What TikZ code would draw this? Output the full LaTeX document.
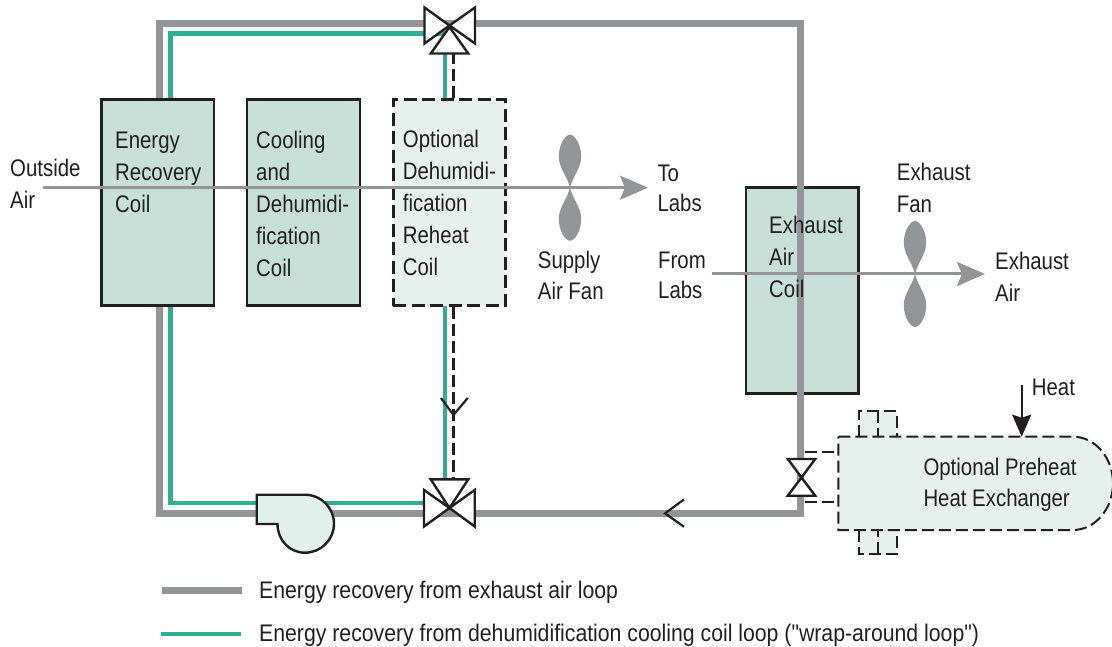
\documentclass[tikz,border=0pt]{standalone}
\usepackage{fontspec}
\setmainfont[FakeStretch=0.85,Ligatures=TeXOff]{Liberation Sans}
\newfontfamily\legfont[FakeStretch=0.885,Ligatures=TeXOff]{Liberation Sans}
\usetikzlibrary{arrows.meta}
\definecolor{ink}{HTML}{231F20}
\definecolor{loopgray}{HTML}{939598}
\definecolor{loopgreen}{HTML}{2FAE93}
\definecolor{coilfill}{HTML}{C6E0D8}
\definecolor{optfill}{HTML}{E6F0EC}
\definecolor{pumpfill}{HTML}{E0F0EA}
\tikzset{
  coil/.style={draw=ink,fill=coilfill,line width=2.7pt,inner sep=0pt},
  optcoil/.style={draw=ink,fill=optfill,line width=2.5pt,inner sep=0pt,dash pattern=on 13pt off 5.5pt},
  grayloop/.style={draw=loopgray,line width=7.5pt,miter limit=10},
  greenloop/.style={draw=loopgreen,line width=4.2pt},
  dashline/.style={draw=ink,line width=2.4pt,dash pattern=on 12pt off 5pt},
  valve/.style={draw=ink,fill=white,line width=2.4pt,line join=miter},
  chevron/.style={draw=ink,line width=2.2pt},
  airline/.style={draw=loopgray,line width=3pt,-{Stealth[length=28pt,width=24pt,inset=5pt]}},
  lbl/.style={anchor=base west,inner sep=0pt,align=left,text=ink,font=\fontsize{24}{32}\selectfont},
  lblt/.style={lbl,font=\fontsize{24}{30}\selectfont},
  leg/.style={anchor=base west,inner sep=0pt,text=ink,font=\legfont\fontsize{24}{32}\selectfont},
  fanblades/.pic={
    \foreach \s in {1,-1}{
      \fill[loopgray,yscale=\s] (0,0) .. controls (-3,-12) and (-11.2,-20) .. (-11.2,-31)
        .. controls (-11.2,-43) and (-5,-53) .. (0,-53)
        .. controls (5,-53) and (11.2,-43) .. (11.2,-31)
        .. controls (11.2,-20) and (3,-12) .. (0,0);
    }
  }
}
\begin{document}
\begin{tikzpicture}[x=1pt,y=-1pt]
\useasboundingbox (0,0) rectangle (1112,647);
\fill[white] (0,0) rectangle (1112,647);
% named points
\coordinate (gTL) at (159.5,23.5);
\coordinate (gTR) at (800.5,23.5);
\coordinate (gBR) at (800.5,513.5);
\coordinate (gBL) at (159.5,513.5);
\coordinate (tTL) at (170.5,33.5);
\coordinate (tTV) at (445.3,33.5);
\coordinate (tBL) at (170.5,503);
\coordinate (tBV) at (445.3,503);
\coordinate (vT) at (449.5,25.5);
\coordinate (vB) at (449.5,508);
\coordinate (vR) at (801.5,477.5);
% exhaust coil under the gray loop
\node[coil,minimum width=112.7pt,minimum height=206pt] (eac) at (802.3,290.3) {};
% loops
\draw[grayloop] (gTL) -- (gTR) -- (gBR) -- (gBL) -- cycle;
\draw[greenloop] (tTL |- 0,99) -- (tTL) -- (tTV) -- (tTV |- 0,99);
\draw[greenloop] (tBL |- 0,305) -- (tBL) -- (tBV) -- (tBV |- 0,305);
% coils
\node[coil,minimum width=112.3pt,minimum height=206.4pt] (erc) at (157.9,202.5) {};
\node[coil,minimum width=113pt,minimum height=206.4pt] (cdc) at (303.5,202.5) {};
\node[optcoil,minimum width=112pt,minimum height=206.4pt] (orc) at (449.3,202.5) {};
% dashed pipes
\coordinate (dT) at (453.5,53.5);
\coordinate (dB) at (453.5,479.3);
\draw[dashline] (orc.north -| dT) -- (dT);
\draw[dashline] (orc.south -| dB) -- (dB);
% valves
\draw[valve] (vT) -- ++(-25,-18) -- ++(0,36) -- cycle;
\draw[valve] (vT) -- ++(25.5,-18) -- ++(0,36) -- cycle;
\draw[valve] (vT) ++(0,1.5) -- ++(-18.7,26.5) -- ++(37.4,0) -- cycle;
\draw[valve] (vB) -- ++(-25.5,-18) -- ++(0,36.5) -- cycle;
\draw[valve] (vB) -- ++(25.2,-18) -- ++(0,36.5) -- cycle;
\draw[valve] (vB) -- ++(-18.8,-28.7) -- ++(37.6,0) -- cycle;
\draw[valve] (vR) -- ++(-13.7,-18.5) -- ++(27.4,0) -- cycle;
\draw[valve] (vR) -- ++(-13.7,18.2) -- ++(27.4,0) -- cycle;
% chevrons
\coordinate (chevD) at (453.5,415);
\coordinate (chevL) at (665,513.4);
\draw[chevron] (chevD) ++(-12.5,-17) -- (chevD) -- ++(14.2,-17);
\draw[chevron] (chevL) ++(19,-14) -- (chevL) -- ++(19,13.4);
% pump
\draw[valve,fill=pumpfill] (256.7,494.7) -- (305,494.7)
  .. controls (321,494.7) and (334,507.7) .. (334,523.7)
  .. controls (334,539.7) and (321,552.7) .. (305,552.7)
  .. controls (289,552.7) and (277.5,539.7) .. (277.5,524)
  -- (256.7,524) -- cycle;
% heat exchanger
\coordinate (hxA) at (838.3,436.7);
\coordinate (hxB) at (838.3,530);
\draw[dashline,line width=2pt,fill=optfill] (859,436.7) -- (859,411) -- (896.7,411) -- (896.7,436.7) (877.7,411) -- (877.7,436.7);
\draw[dashline,line width=2pt,fill=optfill] (859,530) -- (859,554.3) -- (896.7,554.3) -- (896.7,530) (877.7,554.3) -- (877.7,530);
\draw[dashline,line width=2pt,fill=optfill] (hxA) -- (1073,436.7)
  .. controls (1095,436.7) and (1113,457.6) .. (1113,483.3)
  .. controls (1113,509) and (1095,530) .. (1073,530)
  -- (hxB) -- cycle;
\draw[dashline,line width=2pt] (805,451.7) -- (hxA |- 0,451.7);
\draw[dashline,line width=2pt] (805,501.7) -- (hxA |- 0,501.7);
% heat arrow
\coordinate (heatS) at (1021.7,385);
\draw[draw=ink,line width=2.2pt,-{Stealth[length=22pt,width=19pt,inset=3pt]}] (heatS) -- (heatS |- hxA);
% air lines
\coordinate (oaS) at (43,187.7);
\coordinate (oaE) at (648,187.7);
\coordinate (faS) at (711.7,274);
\coordinate (faE) at (985,274);
\pic at (570,187.7) {fanblades};
\pic at (915,274) {fanblades};
\draw[airline] (oaS) -- (oaE);
\draw[airline] (faS) -- (faE);
% legend
\coordinate (lgA) at (162,590.5);
\coordinate (lgB) at (242,590.5);
\coordinate (lgC) at (161,634);
\coordinate (lgD) at (241,634);
\draw[draw=loopgray,line width=7pt] (lgA) -- (lgB);
\draw[draw=loopgreen,line width=4.5pt] (lgC) -- (lgD);
% labels
\node[lbl] (t1) at (10,208.3) {Outside\\Air};
\node[lbl] (t2) at (115,212.7) {Energy\\Recovery\\Coil};
\node[lbl] (t3) at (256,276.7) {Cooling\\and\\Dehumidi-\\fication\\Coil};
\node[lbl] (t4) at (402.7,276) {Optional\\Dehumidi-\\fication\\Reheat\\Coil};
\node[lblt] (t5) at (657.3,211.7) {To\\Labs};
\node[lbl] (t6) at (537.7,300) {Supply\\Air Fan};
\node[lblt] (t7) at (658,298.5) {From\\Labs};
\node[lbl] (t8) at (896.7,212.7) {Exhaust\\Fan};
\node[lbl] (t9) at (769,298) {Exhaust\\Air\\Coil};
\node[lbl] (t10) at (995,301.7) {Exhaust\\Air};
\node[lbl] (t11) at (1031.7,395) {Heat};
\node[lblt,font=\fontsize{24}{31}\selectfont] (t12) at (923.3,506.7) {Optional Preheat\\Heat Exchanger};
\node[leg] (t13) at (259,598) {Energy recovery from exhaust air loop};
\node[leg] (t14) at (259,641) {Energy recovery from dehumidification cooling coil loop ("wrap-around loop")};
\end{tikzpicture}
\end{document}
